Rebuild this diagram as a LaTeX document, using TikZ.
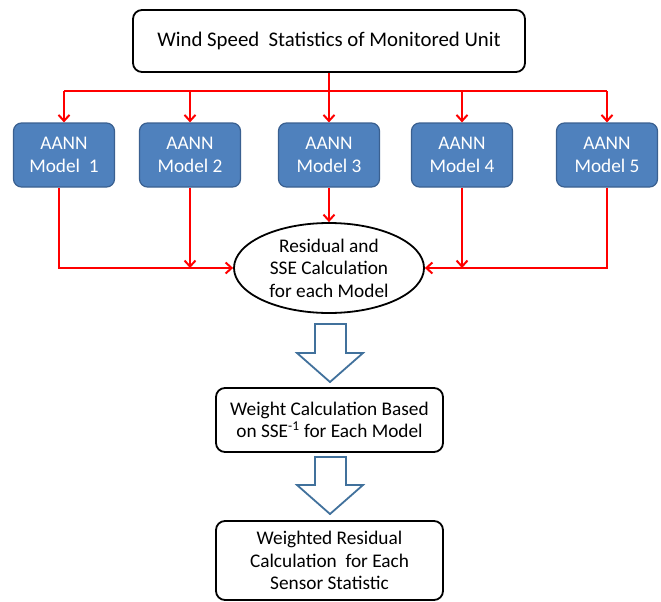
\documentclass[tikz,border=0pt]{standalone}
\usepackage{fontspec}
\setmainfont{Carlito}
\usetikzlibrary{arrows.meta,shapes.geometric}
\definecolor{modelfill}{HTML}{4F81BD}
\definecolor{modeledge}{HTML}{3A6090}
\definecolor{flowedge}{HTML}{41719C}
\definecolor{busred}{HTML}{FF0000}
\tikzset{
  txt/.style={font=\fontsize{19.3}{22.5}\selectfont, align=center, inner sep=0pt},
  whitebox/.style={txt, draw=black, line width=1.8pt, fill=white, rounded corners=9pt},
  modelbox/.style={txt, text=white, draw=modeledge, line width=1.2pt, fill=modelfill, rounded corners=8pt, minimum width=101pt, minimum height=64pt},
  bus/.style={draw=busred, line width=2.4pt},
  busarrow/.style={bus, -{Straight Barb[length=6pt,width=11pt,line width=2pt]}},
  hollow/.style={draw=flowedge, line width=1.8pt, fill=white, line join=miter}
}
\begin{document}
\begin{tikzpicture}[x=1pt,y=-1pt]
\useasboundingbox (0,0) rectangle (661,602);

% source box
\node[whitebox, font=\fontsize{20.8}{24}\selectfont, minimum width=392pt, minimum height=62pt] (top) at (329,41) {Wind Speed\ \ Statistics of Monitored Unit};

% the five models
\node[modelbox] (m1) at (64,155)  {AANN\\Model\ \ 1};
\node[modelbox] (m2) at (190,155) {AANN\\Model 2};
\node[modelbox] (m3) at (329,155) {AANN\\Model 3};
\node[modelbox] (m4) at (462,155) {AANN\\Model 4};
\node[modelbox] (m5) at (607,155) {AANN\\Model 5};

% residual stage
\node[txt, draw=black, line width=1.8pt, fill=white, ellipse, minimum width=190pt, minimum height=90pt, inner sep=0pt] (res) at (329,268) {Residual and\\SSE Calculation\\for each Model};

% weighting stages
\node[whitebox, minimum width=227pt, minimum height=64pt] (wt) at (329.5,420) {Weight Calculation Based\\on SSE\textsuperscript{-1} for Each Model};
\node[whitebox, minimum width=227pt, minimum height=79pt] (wr) at (329.5,560.5) {Weighted Residual\\Calculation\ \ for Each\\Sensor Statistic};

% distribution bus
\coordinate (split) at (329,91);
\draw[bus] (top.south) -- (split);
\draw[bus] (split -| m1) -- (split -| m5);
\foreach \m in {m1,m2,m3,m4,m5}
  \draw[busarrow] (split -| \m) -- (\m.north);

% collection into the residual stage
\draw[busarrow] ([xshift=-5pt]m1.south) |- (res.west);
\draw[busarrow] (m5.south) |- (res.east);
\draw[busarrow] (m2.south) -- (m2.south |- res.west);
\draw[busarrow] (m4.south) -- (m4.south |- res.east);
\draw[busarrow] (m3.south) -- (res.north);

% block arrows between the stages
\draw[hollow] (315,324) -- (346,324) -- (346,353) -- (363,353) -- (330,382)
  -- (297,353) -- (315,353) -- cycle;
\draw[hollow] (315,457) -- (346,457) -- (346,485) -- (363,485) -- (330,514)
  -- (297,485) -- (315,485) -- cycle;
\end{tikzpicture}
\end{document}
